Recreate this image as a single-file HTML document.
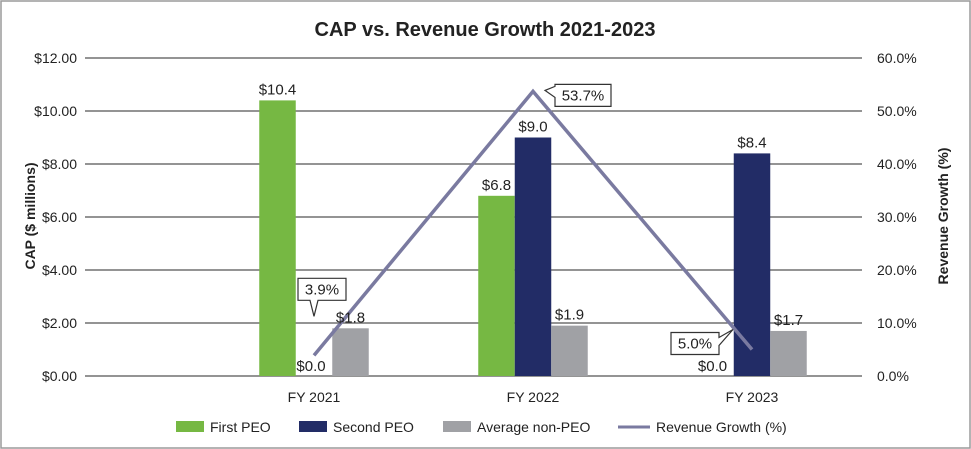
<!DOCTYPE html>
<html><head><meta charset="utf-8"><style>
body{margin:0;background:#fff;font-family:"Liberation Sans",Arial,sans-serif}
svg{display:block}
text{font-family:"Liberation Sans",Arial,sans-serif;fill:#222}
</style></head><body>
<svg id="chart" width="971" height="449" viewBox="0 0 971 449">
<rect x="1" y="1" width="969" height="447" fill="#fff" stroke="#9a9a9a" stroke-width="1.5"/>
<text x="485" y="36" text-anchor="middle" font-size="20" font-weight="bold">CAP vs. Revenue Growth 2021-2023</text>
<g id="grid"></g><g id="bars"></g><g id="line"></g><g id="labels"></g>
<text transform="translate(35,216) rotate(-90)" text-anchor="middle" font-size="14" font-weight="bold">CAP ($ millions)</text>
<text transform="translate(948,216) rotate(-90)" text-anchor="middle" font-size="14" font-weight="bold">Revenue Growth (%)</text>
<g font-size="14">
<rect x="176" y="421" width="28" height="11" fill="#76b843"/><text x="210" y="432">First PEO</text>
<rect x="299" y="421" width="28" height="11" fill="#222c66"/><text x="333" y="432">Second PEO</text>
<rect x="443" y="421" width="28" height="11" fill="#a0a1a5"/><text x="477" y="432">Average non-PEO</text>
<line x1="618" y1="427" x2="650" y2="427" stroke="#7a7aa0" stroke-width="3"/><text x="656" y="432">Revenue Growth (%)</text>
</g>
</svg>
<script>
const categories=["FY 2021","FY 2022","FY 2023"];
const firstPEO=[10.4,6.8,0.0];
const secondPEO=[0.0,9.0,8.4];
const avgNonPEO=[1.8,1.9,1.7];
const revenueGrowth=[3.9,53.7,5.0];
const leftTicks=[0,2,4,6,8,10,12];
const rightTicks=[0,10,20,30,40,50,60];
const NS="http://www.w3.org/2000/svg";
function yL(v){return 376-v/12*318;}
function yR(v){return 376-v/60*318;}
function xC(i){return 314+219*i;}
const BW=36.5;
function mk(tag,attrs,parent,txt){const e=document.createElementNS(NS,tag);for(const k in attrs)e.setAttribute(k,attrs[k]);if(txt!==undefined)e.textContent=txt;parent.appendChild(e);return e;}
const grid=document.getElementById('grid'),bars=document.getElementById('bars'),line=document.getElementById('line'),labels=document.getElementById('labels');
leftTicks.forEach((t,i)=>{
 const l=mk('line',{x1:85,x2:862,y1:yL(t),y2:yL(t),stroke:'#555','stroke-width':1.3},grid);
 
 
 const a=mk('text',{x:77,y:yL(t)+5,'text-anchor':'end','font-size':14},grid,'$'+t.toFixed(2));
 
 
 const b=mk('text',{x:877,y:yR(rightTicks[i])+5,'font-size':14},grid,rightTicks[i].toFixed(1)+'%');
 
 
});
categories.forEach((c,i)=>{
 const t=mk('text',{x:xC(i),y:402,'text-anchor':'middle','font-size':14},labels,c);
 
 
});
const series=[[firstPEO,'#76b843',-1.5],[secondPEO,'#222c66',-0.5],[avgNonPEO,'#a0a1a5',0.5]];
series.forEach(([vals,col,off],s)=>{
 vals.forEach((v,i)=>{
  if(v===null)return;
  const x=xC(i)+off*BW;
  const r=mk('rect',{x:x,y:yL(v),width:BW,height:376-yL(v),fill:col},bars);
  
  
  const t=mk('text',{x:x+BW/2-(v===0?3:0),y:(v===0?yL(v)-5:yL(v)-6),'text-anchor':'middle','font-size':15},labels,'$'+v.toFixed(1));
  
  
 });
});
const pts=revenueGrowth.map((v,i)=>xC(i)+','+yR(v)).join(' ');
const pl=mk('polyline',{points:pts,fill:'none',stroke:'#7a7aa0','stroke-width':3.5},line);


const callouts=[[8,-66,'down'],[50,4,'left'],[-57,-6,'right']];
revenueGrowth.forEach((v,i)=>{
 const px=xC(i),py=yR(v);const [dx,dy,side]=callouts[i];
 const w=v>=10?56:48,h=22;const cx=px+dx,cy=py+dy;const x0=cx-w/2,y0=cy-h/2,x1=cx+w/2,y1=cy+h/2;
 let d;
 if(side==='down'){d=`M${x0},${y0}H${x1}V${y1}H${px+4}L${px},${y1+16}L${px-4},${y1}H${x0}Z`;}
 else if(side==='left'){d=`M${x0},${y0}H${x1}V${y1}H${x0}V${cy+2}L${x0-10},${cy-5}L${x0},${y0+2}Z`;}
 else {d=`M${x0},${y0}H${x1}V${cy-6}L${x1+14},${y0-3}L${x1},${cy+2}V${y1}H${x0}Z`;}
 const p=mk('path',{d:d,fill:'#fff',stroke:'#333','stroke-width':1.2},labels);
 
 
 const t=mk('text',{x:cx,y:cy+5,'text-anchor':'middle','font-size':15},labels,v.toFixed(1)+'%');
 
 
});
</script>
</body></html>
